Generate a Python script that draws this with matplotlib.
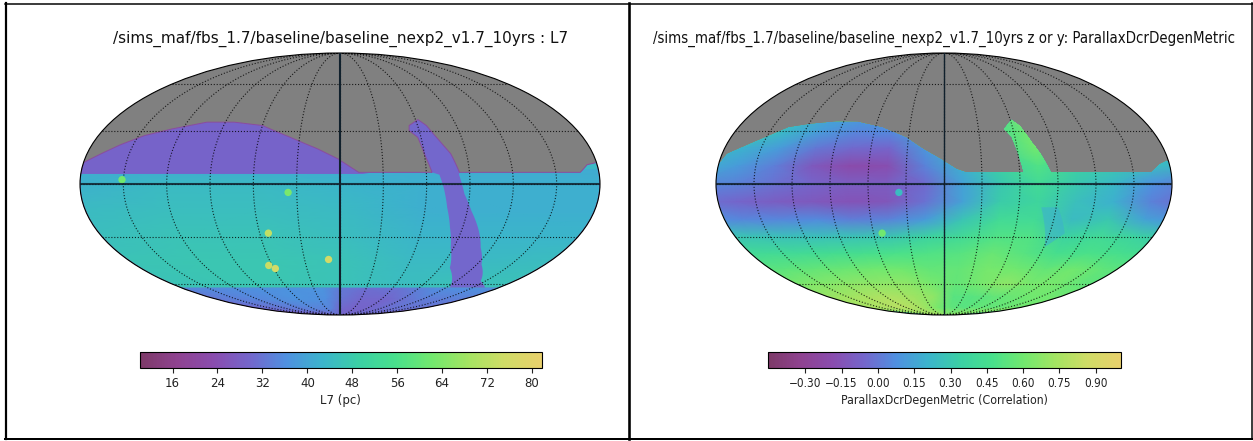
import numpy as np
import matplotlib
matplotlib.use("Agg")
import matplotlib.pyplot as plt
from matplotlib.colors import LinearSegmentedColormap, Normalize
from matplotlib.cm import ScalarMappable
from matplotlib.lines import Line2D
from matplotlib.patches import Polygon

W, H = 1253, 441

# colours
cmap_colors = ["#7d3a68", "#8f4290", "#8a4cae", "#7466cc", "#4f90e0", "#3bb4cc",
               "#3bd0a4", "#48e08c", "#72e86e", "#a4e462", "#d0dc66", "#e8d06c"]

title_left = "/sims_maf/fbs_1.7/baseline/baseline_nexp2_v1.7_10yrs : L7"
title_right = "/sims_maf/fbs_1.7/baseline/baseline_nexp2_v1.7_10yrs z or y: ParallaxDcrDegenMetric"
label_left = "L7 (pc)"
label_right = "ParallaxDcrDegenMetric (Correlation)"

vmin_left, vmax_left = 10.2, 81.7
vmin_right, vmax_right = -0.454, 1.002
ticks_left = [16, 24, 32, 40, 48, 56, 64, 72, 80]
ticks_right = [-0.30, -0.15, 0.00, 0.15, 0.30, 0.45, 0.60, 0.75, 0.90]
ticklabels_right = ["\u22120.30", "\u22120.15", "0.00", "0.15", "0.30", "0.45", "0.60", "0.75", "0.90"]

# footprint edge, left map (lon, lat in degrees)
edge_left_lon = [-179.9, -169, -159, -145.5, -128, -104.5, -83, -60, -37, -16, -1.3, 13, 64, 60, 57.6, 52.4, 53.5,
                 61.9, 66.8, 69.9, 75, 78.8, 83, 167, 173, 179.9, 179.9, -179.9]
edge_left_lat = [12, 17.4, 22.2, 27.4, 31.3, 35.3, 35.3, 33.3, 26.4, 19.7, 14, 6.5, 6.5, 16.9, 26.4, 30.3, 33.3,
                 36.9, 33.3, 28.4, 21.6, 16.9, 6.5, 6.5, 10.8, 12, -90, -90]

# purple northern part, left map
north_lon = [-179.9, -169, -159, -145.5, -128, -104.5, -83, -60, -37, -16, -1.3, 13, 20, -179.9]
north_lat = [12, 17.4, 22.2, 27.4, 31.3, 35.3, 35.3, 33.3, 26.4, 19.7, 14, 6.5, 5.6, 5.6]

# purple stripe, left map
stripe_lon = [64, 60, 57.6, 52.4, 53.5, 61.9, 66.8, 69.9, 75, 78.8, 83, 82.6, 86.4, 92.9, 102, 111.3, 124, 145, 164,
              124, 98.9, 87.6, 80.7, 75.4, 71.8, 69]
stripe_lat = [6.5, 16.9, 26.4, 30.3, 33.3, 36.9, 33.3, 28.4, 21.6, 16.9, 6.5, 5.2, -5.6, -15, -25.4, -36.3, -46.8, -58,
              -62.7, -62.7, -49, -36.3, -24.5, -13.1, -1.9, 5.2]

# southern cap, left map
cap_lon = [-179.9, 179.9, 179.9, -179.9]
cap_lat = [-62.7, -62.7, -90, -90]
grid_lon_cap = [-200, -120, -60, -20, 0, 30, 70, 110, 200]
grid_lat_cap = [-62.7, -72, -82, -90]
grid_cap = [[34, 36, 37, 37, 33, 31, 32, 36, 37],
            [32, 35, 37, 36, 32, 30, 30, 33, 34],
            [30, 32, 34, 34, 30, 29, 30, 31, 32],
            [30, 30, 30, 30, 30, 30, 30, 30, 30]]

# smooth survey depth, left map
grid_lon_left = [-200, -120, -60, 0, 60, 120, 200]
grid_lat_left = [8, 0, -15, -30, -45, -65]
grid_left = [[41, 41, 41, 41, 41, 41, 41],
             [42, 44, 44, 43, 42, 42, 42],
             [44, 45, 45, 44, 42, 42, 42],
             [45, 46, 46, 45, 43, 43, 43],
             [46, 47, 47, 46, 44, 44, 45],
             [46, 47, 47, 46, 45, 46, 46]]

# deep drilling fields, left map
spots_left_lon = [-151, -36, -53.5, -9.7, -63, -58.6]
spots_left_lat = [2.4, -4.7, -27.8, -43.7, -47.5, -49.5]
spots_left_val = [62, 63, 73, 76, 74, 76]

# footprint edge, right map
edge_right_lon = [-179.9, -176, -167, -151, -136, -119, -96, -77, -54, -32, -17, -2.5, 10, 18, 63, 60, 57, 52, 61,
                  67, 73.5, 78.6, 85, 164, 172.5, 178.7, 179.9, 179.9, -179.9]
edge_right_lat = [11, 16.9, 20.3, 26.4, 32.2, 34.2, 35.7, 35.5, 32.2, 26.4, 19.7, 14, 8.4, 6.5, 6.5, 17, 26.4, 31.3,
                  37, 33.3, 23.5, 17, 6.5, 6.5, 11.2, 13.1, 12, -90, -90]

grid_lon_right = [-195, -165, -135, -105, -75, -45, -15, 15, 45, 75, 105, 135, 165, 195]
grid_lat_right = [38, 30, 20, 10, 0, -10, -20, -30, -40, -50, -60, -70, -80, -90]
grid_right = [[.30, .30, .25, .15, .12, .12, .20, .30, .40, .65, .50, .30, .25, .25],
              [.30, .30, .22, .12, .05, .06, .15, .30, .45, .62, .55, .30, .25, .25],
              [.25, .20, .12, .00, -.05, -.06, .10, .25, .42, .60, .50, .30, .25, .25],
              [.20, .12, .02, -.12, -.20, -.18, .03, .20, .35, .50, .35, .30, .25, .20],
              [.05, .03, -.02, -.06, -.10, -.10, -.04, .14, .30, .42, .30, .22, .08, .00],
              [-.02, -.06, -.10, -.12, -.15, -.13, -.02, .14, .32, .38, .26, .20, .03, -.05],
              [.08, .05, .05, .06, .02, .04, .12, .28, .42, .42, .24, .30, .14, .08],
              [.30, .28, .27, .27, .28, .30, .36, .42, .50, .50, .36, .42, .36, .30],
              [.42, .42, .42, .44, .46, .48, .50, .52, .58, .52, .46, .48, .46, .44],
              [.52, .54, .56, .58, .60, .60, .56, .56, .62, .60, .56, .60, .55, .52],
              [.60, .64, .66, .68, .68, .68, .62, .56, .62, .68, .62, .62, .56, .52],
              [.70, .72, .74, .76, .76, .72, .68, .52, .52, .55, .58, .60, .60, .60],
              [.75, .76, .78, .80, .78, .72, .62, .55, .52, .55, .55, .56, .60, .60],
              [.70, .70, .70, .70, .70, .70, .70, .70, .70, .70, .70, .70, .70, .70]]

patch_right_lon = [78, 91.6, 103, 90.6]
patch_right_lat = [-13, -13, -28, -36]

spots_right_lon = [-35.7, -52.7]
spots_right_lat = [-4.7, -27.8]
spots_right_val = [0.24, 0.60]

cmap = LinearSegmentedColormap.from_list("maf", cmap_colors)


def box(x0, y0, x1, y1):
    # pixel box from the top left corner -> figure fractions
    return [x0 / W, 1 - y1 / H, (x1 - x0) / W, (y1 - y0) / H]


def verts(lon, lat):
    return np.column_stack([np.radians(lon), np.radians(lat)])


def make_map(pos):
    ax = fig.add_axes(pos, projection="mollweide")
    ax.set_aspect("auto")
    ax.set_facecolor("#808080")
    ax.set_longitude_grid(30)
    ax.set_latitude_grid(30)
    ax.set_longitude_grid_ends(90)
    ax.set_xticklabels([])
    ax.set_yticklabels([])
    ax.set_axisbelow(False)
    ax.grid(True, color="k", linestyle=":", linewidth=0.8, alpha=0.8)
    return ax


def add_mesh(ax, lon, lat, values, edge, norm, z=1.0):
    clip = Polygon(edge, closed=True, facecolor=cmap(norm(np.mean(values))), edgecolor="none",
                   transform=ax.transData, zorder=z)
    ax.add_patch(clip)
    mesh = ax.pcolormesh(np.radians(lon), np.radians(lat), np.array(values), cmap=cmap, norm=norm,
                         shading="gouraud", zorder=z + 0.1)
    mesh.set_clip_path(clip)


def add_axis_lines(ax, lw_vertical):
    ax.plot([0, 0], np.radians([-90, 90]), color="#10202c", lw=lw_vertical, zorder=5)
    ax.plot(np.radians([-179.9, 179.9]), [0, 0], color="#10202c", lw=1.5, alpha=0.85, zorder=5)


def add_cbar(pos, norm, ticks, label):
    cax = fig.add_axes(pos)
    sm = ScalarMappable(norm=norm, cmap=cmap)
    cb = fig.colorbar(sm, cax=cax, orientation="horizontal", ticks=ticks)
    cb.ax.tick_params(labelsize=8.5, length=3.5, width=0.8, pad=3, colors="#222222")
    cb.set_label(label, fontsize=8.5, labelpad=3, color="#222222")
    cb.outline.set_linewidth(0.8)
    return cb


fig = plt.figure(figsize=(W / 100, H / 100), dpi=100)

# left map
norm_left = Normalize(vmin_left, vmax_left)
ax1 = make_map(box(80, 53, 600, 315))
edge_left = verts(edge_left_lon, edge_left_lat)
add_mesh(ax1, grid_lon_left, grid_lat_left, grid_left, edge_left, norm_left)
add_mesh(ax1, grid_lon_cap, grid_lat_cap, grid_cap, verts(cap_lon, cap_lat), norm_left, z=2)
ax1.add_patch(Polygon(verts(north_lon, north_lat), facecolor=cmap(norm_left(29)), edgecolor="none", zorder=2.2))
ax1.add_patch(Polygon(verts(stripe_lon, stripe_lat), facecolor=cmap(norm_left(30)), edgecolor="none", zorder=2.2))
ax1.add_patch(Polygon(edge_left, facecolor="none", edgecolor="#8e4a9c", lw=0.7, zorder=2.3))
ax1.scatter(np.radians(spots_left_lon), np.radians(spots_left_lat), c=spots_left_val, cmap=cmap, norm=norm_left,
            s=28, linewidths=0, zorder=3)
add_axis_lines(ax1, 1.5)

# right map
norm_right = Normalize(vmin_right, vmax_right)
ax2 = make_map(box(716, 53, 1172, 315))
edge_right = verts(edge_right_lon, edge_right_lat)
add_mesh(ax2, grid_lon_right, grid_lat_right, grid_right, edge_right, norm_right)
ax2.add_patch(Polygon(verts(patch_right_lon, patch_right_lat), facecolor=cmap(norm_right(0.2)), edgecolor="none",
                      alpha=0.6, zorder=2))
ax2.scatter(np.radians(spots_right_lon), np.radians(spots_right_lat), c=spots_right_val, cmap=cmap, norm=norm_right,
            s=28, linewidths=0, zorder=3)
add_axis_lines(ax2, 1.0)

# titles
fig.text(340.5 / W, 1 - 39 / H, title_left, ha="center", va="center", fontsize=11, color="#111111")
fig.text(944 / W, 1 - 39 / H, title_right, ha="center", va="center", fontsize=10.7, color="#111111",
         fontstretch="condensed")

# colour bars
add_cbar(box(140, 351.5, 541.5, 368), norm_left, ticks_left, label_left)
cb2 = add_cbar(box(768, 351.5, 1120.5, 368), norm_right, ticks_right, label_right)
cb2.ax.set_xticklabels(ticklabels_right, fontstretch="condensed")
cb2.ax.xaxis.label.set_fontstretch("condensed")
cb2.ax.xaxis.label.set_fontsize(8.85)

# screenshot frame
frame = [([5.5, 5.5], [3, 439], 2.2), ([629, 629], [3, 439], 2.6), ([1252, 1252], [3, 439], 1.5),
         ([5, 1253], [3.5, 3.5], 1.5), ([5, 1253], [439, 439], 2.0)]
for xs, ys, px in frame:
    fig.add_artist(Line2D(np.array(xs) / W, 1 - np.array(ys) / H, color="k", lw=px * 0.72,
                          transform=fig.transFigure))

fig.savefig("out.png", dpi=100)
